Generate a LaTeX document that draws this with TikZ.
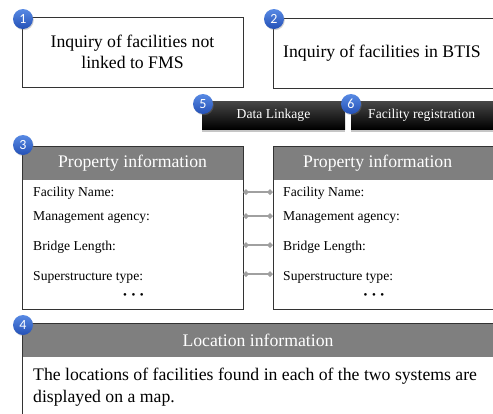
\documentclass[tikz,border=0pt]{standalone}
\usepackage{fontspec}
\setmainfont{Liberation Serif}
\newfontfamily\badgefont{Carlito}
\usetikzlibrary{arrows.meta,shadows}

\definecolor{badgetop}{RGB}{88,138,228}
\definecolor{badgebot}{RGB}{36,80,182}
\definecolor{headgray}{RGB}{127,127,127}
\definecolor{linkgray}{RGB}{160,160,160}

\newcommand{\moredots}{\textbullet\hspace{4.5pt}\textbullet\hspace{4.5pt}\textbullet}

\tikzset{
  badge/.style={circle,minimum size=20pt,inner sep=0pt,
    top color=badgetop,bottom color=badgebot,text=white,
    font=\badgefont\fontsize{14}{14}\selectfont,
    drop shadow={shadow xshift=0.8pt,shadow yshift=-1.2pt,opacity=0.35}},
  frame/.style={draw=black!80,line width=0.9pt},
  head/.style={fill=headgray},
  bigtxt/.style={font=\fontsize{17.7}{21}\selectfont,inner sep=0pt},
  smalltxt/.style={font=\fontsize{13.6}{16}\selectfont,inner sep=0pt},
  dotstxt/.style={font=\fontsize{11}{12}\selectfont,inner sep=0pt},
  darkbox/.style={top color=black!72,middle color=black,bottom color=black,
    text=white,minimum height=28pt,inner sep=0pt,
    font=\fontsize{13.6}{16}\selectfont,
    drop shadow={shadow xshift=0pt,shadow yshift=-3pt,opacity=0.45}},
  linkline/.style={draw=linkgray,line width=2.2pt,
    {Diamond[length=6pt,width=6pt]}-{Diamond[length=6pt,width=6pt]}}
}

\begin{document}
\begin{tikzpicture}[x=1pt,y=-1pt]
  \useasboundingbox (0,0) rectangle (493,413);
  \clip (0,0) rectangle (493,413);

  % inquiry boxes
  \node[frame,bigtxt,minimum width=221pt,minimum height=70pt,align=center]
    (inq1) at (132.5,52) {Inquiry of facilities not\\linked to FMS};
  \draw[frame] (273,18) rectangle (530,88);
  \node[bigtxt,anchor=west] (inq2) at (283,53) {Inquiry of facilities in BTIS};

  % buttons
  \node[darkbox,minimum width=143pt] (link) at (273.5,115) {Data Linkage};
  \path[darkbox] (351,101) rectangle (530,129);
  \node[smalltxt,text=white,anchor=west] (reg) at (368,115) {Facility registration};

  % property panels
  \fill[head] (22,146) rectangle (243,180);
  \draw[frame] (22,146) rectangle (243,309);
  \fill[head] (273,146) rectangle (530,180);
  \draw[frame] (273,146) rectangle (530,309);
  \node[bigtxt,text=white] (propL) at (132.5,163) {Property information};
  \node[bigtxt,text=white,anchor=west] (propR) at (303,163) {Property information};

  \foreach \t/\y [count=\i] in {Facility Name:/193,Management agency:/218,
      Bridge Length:/247,Superstructure type:/277}{
    \node[smalltxt,anchor=west] (fl\i) at (33,\y) {\t};
    \node[smalltxt,anchor=west] (fr\i) at (283,\y) {\t};
  }
  \node[dotstxt] (dotsL) at (133.5,296) {\moredots};
  \node[dotstxt] (dotsR) at (374,296) {\moredots};

  % field links
  \foreach \y [count=\i] in {192,216,245,274}{
    \coordinate (cl\i) at (243,\y);
    \coordinate (cr\i) at (273,\y);
    \draw[linkline] (cl\i) -- (cr\i);
  }

  % location panel
  \fill[head] (22,323) rectangle (530,357);
  \draw[frame] (22,323) rectangle (530,440);
  \node[bigtxt,text=white] (loc) at (258,340) {Location information};
  \node[bigtxt,anchor=west,align=left,font=\fontsize{17.7}{22}\selectfont]
    (locbody) at (33,387) {The locations of facilities found in each of the two systems are\\displayed on a map.};

  % numbered badges
  \node[badge] (b1) at (23,19) {1};
  \node[badge] (b2) at (274,19) {2};
  \node[badge] (b3) at (23,145) {3};
  \node[badge] (b4) at (23,325) {4};
  \node[badge] (b5) at (203,104) {5};
  \node[badge] (b6) at (351,104) {6};
\end{tikzpicture}
\end{document}
